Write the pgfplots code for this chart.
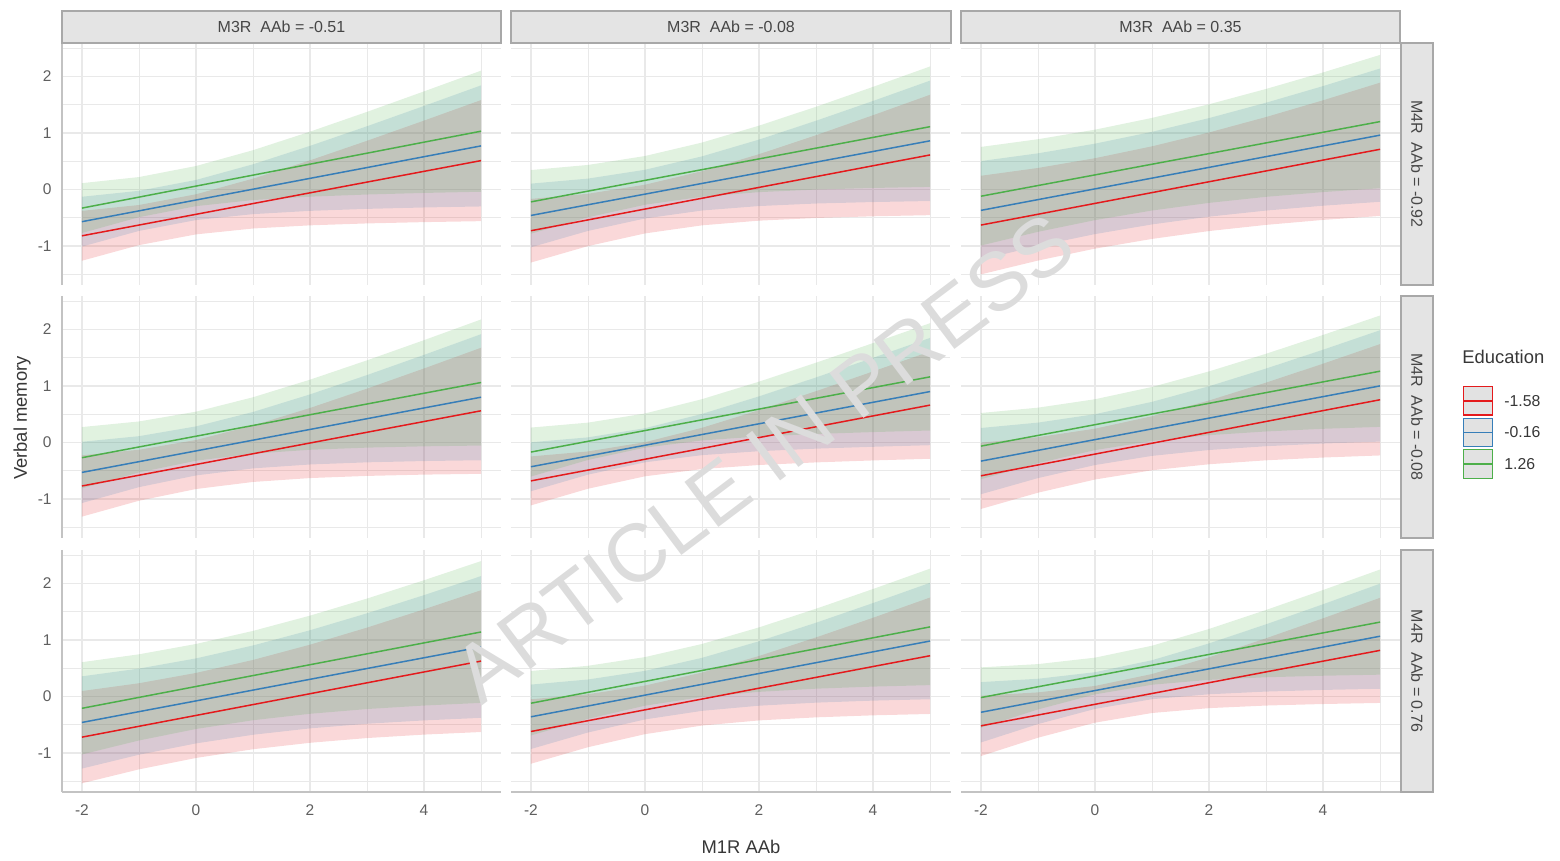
\documentclass[border=0pt]{standalone}
\usepackage{pgfplots}
\pgfplotsset{compat=1.18}
\usepackage{pgfplotstable}
\usepgfplotslibrary{fillbetween}
\usepackage{fontspec}
\setmainfont{Liberation Sans}

\definecolor{cred}{RGB}{228,26,28}
\definecolor{cblue}{RGB}{55,126,184}
\definecolor{cgreen}{RGB}{77,175,74}
\definecolor{gridc}{RGB}{233,233,233}
\definecolor{tickc}{RGB}{95,95,95}
\definecolor{titlec}{RGB}{55,55,55}
\definecolor{stripc}{RGB}{228,228,228}
\definecolor{stripd}{RGB}{168,168,168}
\definecolor{stript}{RGB}{70,70,70}
\definecolor{axisc}{RGB}{195,195,195}
\definecolor{keyc}{RGB}{226,226,226}
\definecolor{wmc}{RGB}{220,220,220}

% columns: x, red line/lower/upper, blue line/lower/upper, green line/lower/upper
\pgfplotstableread{
x r rl ru b bl bu g gl gu
-2 -0.82 -1.261 -0.379 -0.57 -1.011 -0.129 -0.33 -0.771 0.111
-1 -0.63 -0.985 -0.275 -0.379 -0.734 -0.024 -0.136 -0.491 0.219
0 -0.44 -0.795 -0.085 -0.187 -0.542 0.168 0.059 -0.296 0.414
1 -0.25 -0.691 0.191 0.004 -0.437 0.445 0.253 -0.188 0.694
2 -0.06 -0.635 0.515 0.196 -0.379 0.771 0.447 -0.128 1.022
3 0.13 -0.601 0.861 0.387 -0.344 1.118 0.641 -0.090 1.372
4 0.32 -0.578 1.218 0.579 -0.319 1.477 0.836 -0.062 1.734
5 0.51 -0.561 1.581 0.77 -0.301 1.841 1.03 -0.041 2.101
}\Taa
\pgfplotstableread{
x r rl ru b bl bu g gl gu
-2 -0.73 -1.293 -0.167 -0.46 -1.023 0.103 -0.22 -0.783 0.343
-1 -0.539 -1.002 -0.076 -0.271 -0.734 0.192 -0.03 -0.493 0.433
0 -0.347 -0.778 0.084 -0.083 -0.514 0.348 0.16 -0.271 0.591
1 -0.156 -0.635 0.323 0.106 -0.373 0.585 0.35 -0.129 0.829
2 0.036 -0.552 0.624 0.294 -0.294 0.882 0.54 -0.048 1.128
3 0.227 -0.505 0.959 0.483 -0.249 1.215 0.73 -0.002 1.462
4 0.419 -0.475 1.313 0.671 -0.223 1.565 0.92 0.026 1.814
5 0.61 -0.455 1.675 0.86 -0.205 1.925 1.11 0.045 2.175
}\Tab
\pgfplotstableread{
x r rl ru b bl bu g gl gu
-2 -0.63 -1.502 0.242 -0.37 -1.242 0.502 -0.12 -0.992 0.752
-1 -0.439 -1.258 0.380 -0.18 -0.999 0.639 0.069 -0.75 0.888
0 -0.247 -1.047 0.553 0.01 -0.79 0.81 0.257 -0.543 1.057
1 -0.056 -0.875 0.763 0.20 -0.619 1.019 0.446 -0.373 1.265
2 0.136 -0.736 1.008 0.39 -0.482 1.262 0.634 -0.238 1.506
3 0.327 -0.627 1.281 0.58 -0.374 1.534 0.823 -0.131 1.777
4 0.519 -0.539 1.577 0.77 -0.288 1.828 1.011 -0.047 2.069
5 0.71 -0.469 1.889 0.96 -0.219 2.139 1.20 0.021 2.379
}\Tac
\pgfplotstableread{
x r rl ru b bl bu g gl gu
-2 -0.77 -1.312 -0.228 -0.53 -1.072 0.012 -0.27 -0.812 0.272
-1 -0.58 -1.031 -0.129 -0.34 -0.791 0.111 -0.08 -0.531 0.371
0 -0.39 -0.824 0.044 -0.15 -0.584 0.284 0.11 -0.324 0.544
1 -0.20 -0.699 0.299 0.04 -0.459 0.539 0.30 -0.199 0.799
2 -0.01 -0.63 0.61 0.23 -0.39 0.85 0.49 -0.13 1.11
3 0.18 -0.592 0.952 0.42 -0.352 1.192 0.68 -0.092 1.452
4 0.37 -0.569 1.309 0.61 -0.329 1.549 0.87 -0.069 1.809
5 0.56 -0.555 1.675 0.80 -0.315 1.915 1.06 -0.055 2.175
}\Tba
\pgfplotstableread{
x r rl ru b bl bu g gl gu
-2 -0.68 -1.113 -0.247 -0.43 -0.863 0.003 -0.17 -0.603 0.263
-1 -0.489 -0.819 -0.159 -0.24 -0.57 0.09 0.02 -0.31 0.35
0 -0.297 -0.599 0.005 -0.05 -0.352 0.252 0.21 -0.092 0.512
1 -0.106 -0.471 0.259 0.14 -0.225 0.505 0.40 0.035 0.765
2 0.086 -0.399 0.571 0.33 -0.155 0.815 0.59 0.105 1.075
3 0.277 -0.353 0.907 0.52 -0.11 1.15 0.78 0.15 1.41
4 0.469 -0.318 1.256 0.71 -0.077 1.497 0.97 0.183 1.757
5 0.66 -0.289 1.609 0.90 -0.049 1.849 1.16 0.211 2.109
}\Tbb
\pgfplotstableread{
x r rl ru b bl bu g gl gu
-2 -0.59 -1.176 -0.004 -0.33 -0.916 0.256 -0.065 -0.651 0.521
-1 -0.398 -0.889 0.093 -0.14 -0.631 0.351 0.124 -0.367 0.615
0 -0.206 -0.656 0.244 0.05 -0.40 0.50 0.314 -0.136 0.764
1 -0.014 -0.492 0.464 0.24 -0.238 0.718 0.503 0.025 0.981
2 0.178 -0.386 0.742 0.43 -0.134 0.994 0.692 0.128 1.256
3 0.371 -0.316 1.058 0.62 -0.067 1.307 0.881 0.194 1.568
4 0.563 -0.267 1.393 0.81 -0.02 1.64 1.071 0.241 1.901
5 0.755 -0.23 1.74 1.00 0.015 1.985 1.26 0.275 2.245
}\Tbc
\pgfplotstableread{
x r rl ru b bl bu g gl gu
-2 -0.72 -1.536 0.096 -0.46 -1.276 0.356 -0.21 -1.026 0.606
-1 -0.528 -1.29 0.234 -0.269 -1.031 0.493 -0.017 -0.779 0.745
0 -0.336 -1.088 0.416 -0.079 -0.831 0.673 0.176 -0.576 0.928
1 -0.144 -0.934 0.646 0.112 -0.678 0.902 0.369 -0.421 1.159
2 0.048 -0.82 0.916 0.303 -0.565 1.171 0.561 -0.307 1.429
3 0.241 -0.736 1.218 0.494 -0.483 1.471 0.754 -0.223 1.731
4 0.433 -0.675 1.541 0.684 -0.424 1.792 0.947 -0.161 2.055
5 0.625 -0.629 1.879 0.875 -0.379 2.129 1.14 -0.114 2.394
}\Tca
\pgfplotstableread{
x r rl ru b bl bu g gl gu
-2 -0.62 -1.19 -0.05 -0.36 -0.93 0.21 -0.12 -0.69 0.45
-1 -0.429 -0.898 0.04 -0.169 -0.638 0.30 0.073 -0.396 0.542
0 -0.237 -0.667 0.193 0.023 -0.407 0.453 0.266 -0.164 0.696
1 -0.046 -0.515 0.423 0.214 -0.255 0.683 0.459 -0.01 0.928
2 0.146 -0.424 0.716 0.406 -0.164 0.976 0.651 0.081 1.221
3 0.337 -0.37 1.044 0.597 -0.11 1.304 0.844 0.137 1.551
4 0.529 -0.334 1.392 0.789 -0.074 1.652 1.037 0.174 1.90
5 0.72 -0.31 1.75 0.98 -0.05 2.01 1.23 0.20 2.26
}\Tcb
\pgfplotstableread{
x r rl ru b bl bu g gl gu
-2 -0.52 -1.054 0.014 -0.28 -0.814 0.254 -0.02 -0.554 0.514
-1 -0.329 -0.73 0.072 -0.088 -0.489 0.313 0.171 -0.23 0.572
0 -0.139 -0.464 0.186 0.104 -0.221 0.429 0.361 0.036 0.686
1 0.052 -0.293 0.397 0.296 -0.049 0.641 0.552 0.207 0.897
2 0.243 -0.207 0.693 0.488 0.038 0.938 0.743 0.293 1.193
3 0.434 -0.161 1.029 0.681 0.086 1.276 0.934 0.339 1.529
4 0.624 -0.134 1.382 0.873 0.115 1.631 1.124 0.366 1.882
5 0.815 -0.115 1.745 1.065 0.135 1.995 1.315 0.385 2.245
}\Tcc

\pgfplotsset{
  panel/.style={
    scale only axis, width=219.5pt, height=121pt, anchor=north west,
    xmin=-2.35, xmax=5.35, ymin=-1.69, ymax=2.59,
    xtick={-2,0,2,4}, ytick={-1,0,1,2},
    minor xtick={-1,1,3,5}, minor ytick={-1.5,-0.5,0.5,1.5,2.5},
    grid=both,
    major grid style={draw=gridc, line width=0.7pt},
    minor grid style={draw=gridc, line width=0.45pt},
    axis line style={draw=none}, tick style={draw=none},
    xticklabels={,,,}, yticklabels={,,,},
    ticklabel style={font=\fontsize{7.75}{9}\selectfont, text=tickc, inner sep=0pt},
    xticklabel style={yshift=-6pt},
    yticklabel style={xshift=-5pt},
    no markers,
  },
  labx/.style={xticklabels={-2,0,2,4}},
  laby/.style={yticklabels={-1,0,1,2}},
}

\newcommand\panelbody[2]{%
  \addplot[name path=rl#2, draw=none, forget plot] table[x=x,y=rl]{#1};
  \addplot[name path=ru#2, draw=none, forget plot] table[x=x,y=ru]{#1};
  \addplot[name path=bl#2, draw=none, forget plot] table[x=x,y=bl]{#1};
  \addplot[name path=bu#2, draw=none, forget plot] table[x=x,y=bu]{#1};
  \addplot[name path=gl#2, draw=none, forget plot] table[x=x,y=gl]{#1};
  \addplot[name path=gu#2, draw=none, forget plot] table[x=x,y=gu]{#1};
  \addplot[fill=cred, fill opacity=0.17, draw=none, forget plot] fill between[of=rl#2 and ru#2];
  \addplot[fill=cblue, fill opacity=0.17, draw=none, forget plot] fill between[of=bl#2 and bu#2];
  \addplot[fill=cgreen, fill opacity=0.17, draw=none, forget plot] fill between[of=gl#2 and gu#2];
  \addplot[cred, line width=0.75pt] table[x=x,y=r]{#1};
  \addplot[cblue, line width=0.75pt] table[x=x,y=b]{#1};
  \addplot[cgreen, line width=0.75pt] table[x=x,y=g]{#1};
}

\begin{document}
\begin{tikzpicture}
\path (0,0) rectangle (780pt,-430pt);

% row 1
\begin{axis}[panel, laby, at={(31pt,-21.5pt)}]
\panelbody{\Taa}{aa}
\end{axis}
\begin{axis}[panel, at={(255.5pt,-21.5pt)}]
\panelbody{\Tab}{ab}
\end{axis}
\begin{axis}[panel, at={(480.5pt,-21.5pt)}]
\panelbody{\Tac}{ac}
\end{axis}
% row 2
\begin{axis}[panel, laby, at={(31pt,-148pt)}]
\panelbody{\Tba}{ba}
\end{axis}
\begin{axis}[panel, at={(255.5pt,-148pt)}]
\panelbody{\Tbb}{bb}
\end{axis}
\begin{axis}[panel, at={(480.5pt,-148pt)}]
\panelbody{\Tbc}{bc}
\end{axis}
% row 3
\begin{axis}[panel, laby, labx, at={(31pt,-275pt)}]
\panelbody{\Tca}{ca}
\end{axis}
\begin{axis}[panel, labx, at={(255.5pt,-275pt)}]
\panelbody{\Tcb}{cb}
\end{axis}
\begin{axis}[panel, labx, at={(480.5pt,-275pt)}]
\panelbody{\Tcc}{cc}
\end{axis}

% axis lines
\draw[axisc, line width=0.7pt] (31pt,-21.5pt) -- (31pt,-142.5pt);
\draw[axisc, line width=0.7pt] (31pt,-148pt) -- (31pt,-269pt);
\draw[axisc, line width=0.7pt] (31pt,-275pt) -- (31pt,-396pt);
\draw[axisc, line width=0.7pt] (31pt,-396pt) -- (250.5pt,-396pt);
\draw[axisc, line width=0.7pt] (255.5pt,-396pt) -- (475.5pt,-396pt);
\draw[axisc, line width=0.7pt] (480.5pt,-396pt) -- (700pt,-396pt);

% top strips
\begin{scope}[every node/.style={font=\fontsize{8}{9}\selectfont, text=stript}]
\draw[fill=stripc, draw=stripd, line width=0.6pt] (31pt,-5.5pt) rectangle (250.5pt,-21.5pt);
\node at (140.75pt,-13.5pt) {M3R~~AAb = -0.51};
\draw[fill=stripc, draw=stripd, line width=0.6pt] (255.5pt,-5.5pt) rectangle (475.5pt,-21.5pt);
\node at (365.5pt,-13.5pt) {M3R~~AAb = -0.08};
\draw[fill=stripc, draw=stripd, line width=0.6pt] (480.5pt,-5.5pt) rectangle (700pt,-21.5pt);
\node at (590.25pt,-13.5pt) {M3R~~AAb = 0.35};
% right strips
\draw[fill=stripc, draw=stripd, line width=0.6pt] (700.5pt,-21.5pt) rectangle (716.5pt,-142.5pt);
\node[rotate=-90] at (708.5pt,-82pt) {M4R~~AAb = -0.92};
\draw[fill=stripc, draw=stripd, line width=0.6pt] (700.5pt,-148pt) rectangle (716.5pt,-269pt);
\node[rotate=-90] at (708.5pt,-208.5pt) {M4R~~AAb = -0.08};
\draw[fill=stripc, draw=stripd, line width=0.6pt] (700.5pt,-275pt) rectangle (716.5pt,-396pt);
\node[rotate=-90] at (708.5pt,-335.5pt) {M4R~~AAb = 0.76};
\end{scope}

% axis titles
\node[rotate=90, font=\fontsize{9.2}{11}\selectfont, text=titlec] at (11pt,-209pt) {Verbal memory};
\node[font=\fontsize{9.2}{11}\selectfont, text=titlec] at (370.5pt,-423.5pt) {M1R AAb};

% legend
\node[anchor=west, inner sep=0pt, font=\fontsize{9.2}{11}\selectfont, text=titlec] at (731pt,-178.5pt) {Education};
\draw[fill=keyc, draw=cred, line width=0.75pt] (731.8pt,-193.3pt) rectangle (746.3pt,-207.5pt);
\draw[cred, line width=0.75pt] (731.8pt,-200.4pt) -- (746.3pt,-200.4pt);
\draw[fill=keyc, draw=cblue, line width=0.75pt] (731.8pt,-209.2pt) rectangle (746.3pt,-223.2pt);
\draw[cblue, line width=0.75pt] (731.8pt,-216.2pt) -- (746.3pt,-216.2pt);
\draw[fill=keyc, draw=cgreen, line width=0.75pt] (731.8pt,-224.8pt) rectangle (746.3pt,-239.2pt);
\draw[cgreen, line width=0.75pt] (731.8pt,-232pt) -- (746.3pt,-232pt);
\begin{scope}[every node/.style={anchor=west, inner sep=0pt, font=\fontsize{7.9}{9}\selectfont, text=titlec}]
\node at (752pt,-200.4pt) {-1.58};
\node at (752pt,-216.2pt) {-0.16};
\node at (752pt,-232pt) {1.26};
\end{scope}

% watermark
\node[rotate=37, text=wmc, font=\fontsize{41}{48}\selectfont, inner sep=0pt] at (382pt,-229pt) {ARTICLE IN PRESS};
\end{tikzpicture}
\end{document}
